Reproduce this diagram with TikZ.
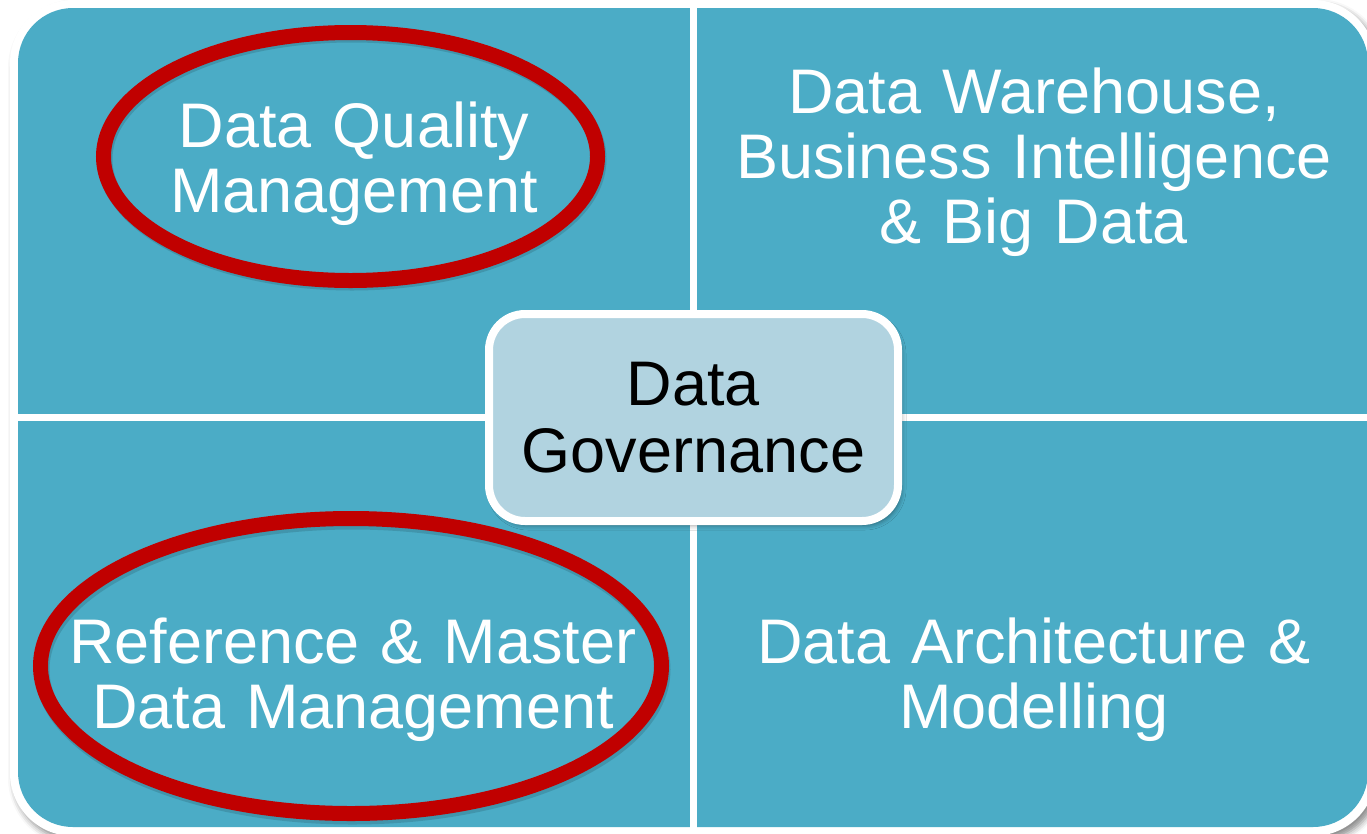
\documentclass[tikz,border=0pt]{standalone}
\usepackage{fontspec}
\setmainfont{Liberation Sans}
\usetikzlibrary{shapes.geometric,shadows.blur}
\definecolor{tealbg}{RGB}{75,172,198}
\definecolor{centerfill}{RGB}{177,211,224}
\definecolor{markred}{RGB}{192,0,0}
\tikzset{
  lbl/.style={text=white, font=\fontsize{63pt}{65pt}\selectfont, align=center,
    text width=760pt, inner sep=0pt, anchor=base},
  govbox/.style={draw=white, line width=8pt, fill=centerfill, rounded corners=36pt,
    minimum width=409pt, minimum height=207pt, inner sep=0pt, text width=409pt,
    align=center, font=\fontsize{63pt}{67pt}\selectfont, text=black,
    blur shadow={shadow xshift=3pt, shadow yshift=-4pt, shadow blur radius=5pt, shadow opacity=45}},
  markring/.style={draw=markred, line width=15pt, ellipse, inner sep=0pt},
  ringshadow/.style={draw=black, opacity=0.13, line width=15pt},
  divider/.style={draw=white, line width=7pt}
}
\begin{document}
\begin{tikzpicture}[x=1pt,y=-1pt]
\useasboundingbox (0,0) rectangle (1367,833);
% outer white frame with shadow
\path[fill=white, rounded corners=63pt,
  blur shadow={shadow xshift=4pt, shadow yshift=-5pt, shadow blur radius=6pt, shadow opacity=45}]
  (10,0) rectangle (1376,836);
% blue field
\fill[tealbg, rounded corners=55pt] (18,8) rectangle (1368,827);
% dividers
\draw[divider] (693,0) -- (693,833);
\draw[divider] (10,417) -- (1376,417);
% quadrant labels
\node[lbl] (dq) at (354,147) {Data Quality\\Management};
\node[lbl] (dw) at (1034,113) {Data Warehouse,\\Business Intelligence\\\& Big Data};
\node[lbl] (rm) at (353,663) {Reference \& Master\\Data Management};
\node[lbl] (da) at (1034,663) {Data Architecture \&\\Modelling};
% red rings with soft shadows
\draw[ringshadow] (352,159) ellipse [x radius=247, y radius=124];
\node[markring, minimum width=494pt, minimum height=248pt] (dqring) at (350.5,156.5) {};
\draw[ringshadow] (352.5,669.5) ellipse [x radius=310.5, y radius=147.5];
\node[markring, minimum width=621pt, minimum height=295pt] (rmring) at (351,666) {};
% central box
\node[govbox] (gov) at (693.5,417.5) {Data\\Governance};
\end{tikzpicture}
\end{document}
